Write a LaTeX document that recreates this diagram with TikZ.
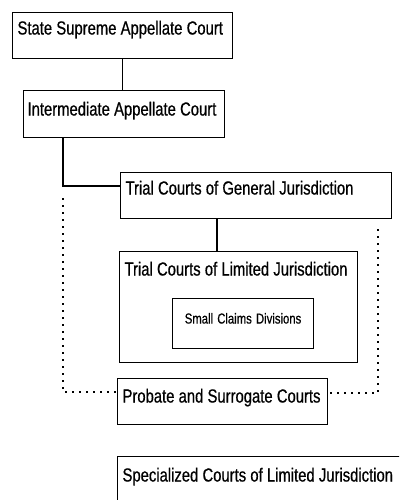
\documentclass[tikz,border=0pt]{standalone}
\usepackage{fontspec}
\setmainfont{Liberation Sans}[FakeStretch=0.78, FakeBold=0.6]
\usepackage{tikz}
\newcommand{\courtspace}{\spaceskip=4.2pt plus 1pt\relax}

\begin{document}
\begin{tikzpicture}[x=1pt, y=-1pt,
        court/.style={draw, line width=1.1pt, anchor=north west, inner xsep=5pt, inner ysep=0pt, align=left, font=\fontsize{19}{21}\selectfont, execute at begin node=\courtspace},
        dotline/.style={line width=1.1pt, dash pattern=on 2pt off 5pt}]
            \path[use as bounding box] (0, 0) rectangle (399, 500);
            \clip (0, 0) rectangle (399, 500);

            \node[court, text width=210pt, text height=22pt, text depth=24pt] (supreme) at (12, 12) {\mbox{State Supreme Appellate Court}};
            \node[court, inner xsep=4pt, text width=193pt, text height=25pt, text depth=22pt] (appellate) at (23, 90) {\mbox{Intermediate Appellate Court}};
            \node[court, text width=261pt, text height=22pt, text depth=24pt] (general) at (120, 172) {\mbox{Trial Courts of General Jurisdiction}};
            \node[court, text width=228pt, text height=24pt, text depth=87pt] (limited) at (119, 251) {\mbox{Trial Courts of Limited Jurisdiction}};
            \node[court, align=center, text width=131pt, text height=25pt, text depth=25pt, font=\fontsize{14.5}{17}\selectfont] (claims) at (172, 298) {\mbox{Small Claims Divisions}};
            \node[court, text width=200pt, text height=24pt, text depth=22pt] (probate) at (117, 378) {\mbox{Probate and Surrogate Courts}};
            \node[court, text width=300pt, text height=25pt, text depth=40pt] (special) at (117, 456) {\mbox{Specialized Courts of Limited Jurisdiction}};

            \coordinate (split) at (63, 186);
            \coordinate (mid) at (217, 235);
            \coordinate (lcorner) at (63, 392);
            \coordinate (rcorner) at (378, 393);

            \draw[line width=1.1pt] (supreme.south) -- (supreme.south |- appellate.north);
            \draw[line width=1.1pt] (appellate.south -| split) -- (split) -- (split -| general.west);
            \draw[line width=1.1pt] (mid |- general.south) -- (mid |- limited.north);
            \draw[dotline] ([yshift=-12pt]split) -- (lcorner) -- (lcorner -| probate.west);
            \draw[dotline] ([yshift=-10pt]general.south -| rcorner) -- (rcorner) -- (rcorner -| probate.east);
        \end{tikzpicture}
\end{document}
